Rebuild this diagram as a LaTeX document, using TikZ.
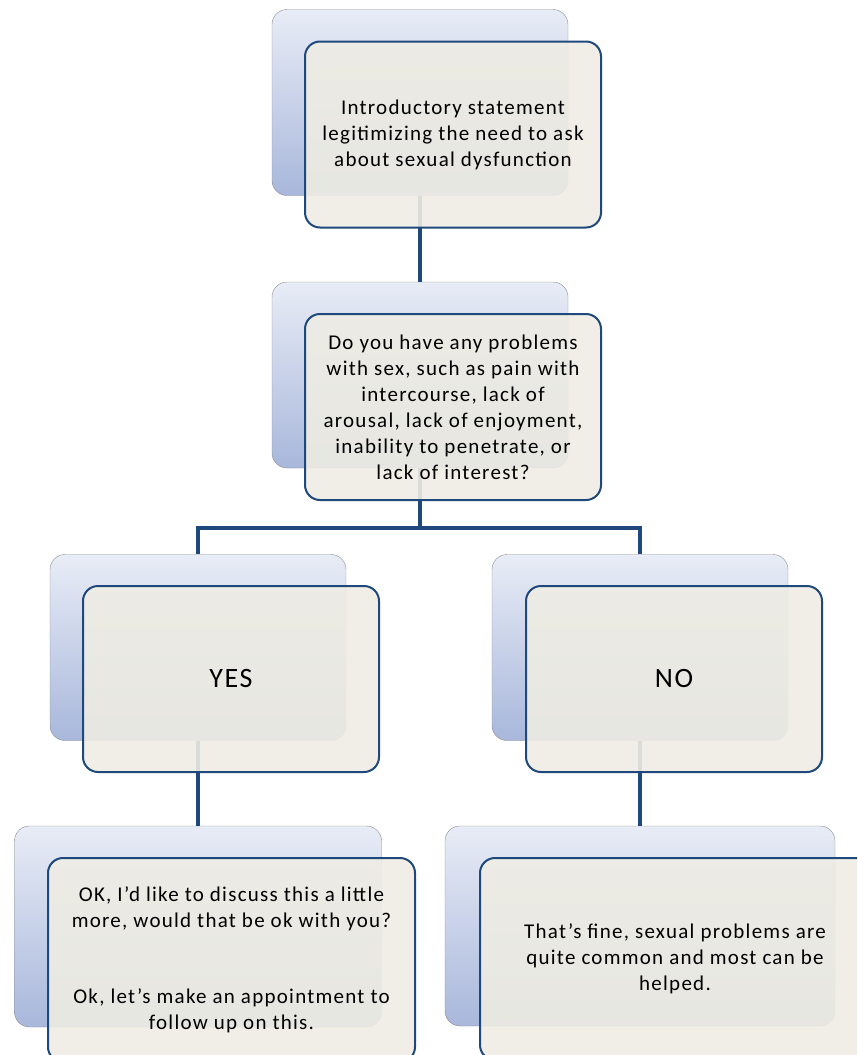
\documentclass[tikz,border=0pt]{standalone}
\usepackage{fontspec}
\setmainfont{Carlito}[LetterSpace=6]
\definecolor{backline}{HTML}{8A8D94}
\definecolor{backtop}{HTML}{E8ECF6}
\definecolor{backbot}{HTML}{A8B7DB}
\definecolor{frontline}{HTML}{1F497D}
\definecolor{frontfill}{HTML}{EEECE3}
\begin{document}
\begin{tikzpicture}[x=1pt, y=-1pt,
    back/.style={draw=backline, rounded corners=15pt, top color=backtop, bottom color=backbot,
                 minimum width=296pt, minimum height=186pt, inner sep=0pt},
    front/.style={draw=frontline, line width=2pt, rounded corners=15pt, fill=frontfill,
                  fill opacity=0.9, text opacity=1, minimum width=296pt, minimum height=186pt,
                  inner sep=0pt, align=center, font=\fontsize{21}{26}\selectfont},
    link/.style={draw=frontline, line width=4pt}]
      \useasboundingbox (0, 0) rectangle (857, 1055);
      \clip (0, 0) rectangle (857, 1055);
      \node (introbk) [back] at (420, 102.5) {};
      \node (askbk) [back] at (420, 375) {};
      \node (yesbk) [back] at (198, 647.5) {};
      \node (nobk) [back] at (640, 647.5) {};
      \node (okbk) [back, minimum width=367pt, minimum height=201pt] at (198, 926.5) {};
      \node (finebk) [back, minimum width=390pt, minimum height=200pt] at (640, 926) {};
      \coordinate (split) at (420, 528);
      \draw[link] (introbk.south) -- (askbk.north)
                  (askbk.south) -- (split) -| (yesbk.north)
                  (split) -| (nobk.north)
                  (yesbk.south) -- (okbk.north)
                  (nobk.south) -- (finebk.north);
      \node (intro) [front] at (453, 134.5) {Introductory statement\\ legitimizing the need to ask\\ about sexual dysfunction};
      \node (ask) [front] at (453, 407) {Do you have any problems\\ with sex, such as pain with\\ intercourse, lack of\\ arousal, lack of enjoyment,\\ inability to penetrate, or\\ lack of interest?};
      \node (yes) [front, font=\fontsize{28}{32}\selectfont] at (231, 679) {YES};
      \node (no) [front, font=\fontsize{28}{32}\selectfont] at (674, 679) {NO};
      \node (ok) [front, minimum width=367pt, minimum height=204pt] at (231.5, 960) {OK, I’d like to discuss this a little\\ more, would that be ok with you?\\[50pt] Ok, let’s make an appointment to\\ follow up on this.};
      \node (fine) [front, minimum width=400pt, minimum height=202pt] at (680, 959) {\hspace*{-10pt}That’s fine, sexual problems are\\ \hspace*{-10pt}quite common and most can be\\ \hspace*{-10pt}helped.};
\end{tikzpicture}
\end{document}
